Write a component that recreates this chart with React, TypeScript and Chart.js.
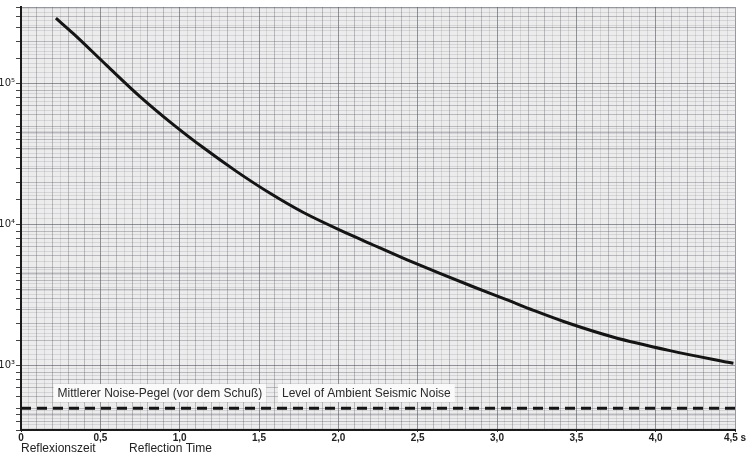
import { useEffect, useRef } from "react";
import { Chart, registerables } from "chart.js";
Chart.register(...registerables);

// Reflection time (s) and amplitude
const TIME_S = [0.22, 0.33, 0.54, 0.75, 0.96, 1.15, 1.36, 1.57, 1.78, 2.07, 2.22, 2.43, 2.64, 2.85, 3.06, 3.23, 3.42, 3.73, 4.09, 4.49];
const AMPLITUDE = [291700, 226500, 134900, 81100, 51300, 35100, 23800, 16700, 12200, 8530, 7180, 5660, 4510, 3630, 2940, 2470, 2060, 1600, 1280, 1040];

// Ambient noise level (dashed line)
const NOISE_TIME = [0, 4.5];
const NOISE_LEVEL = [500, 500];

// Axis ticks
const X_TICK_LABELS = ["0", "0,5", "1,0", "1,5", "2,0", "2,5", "3,0", "3,5", "4,0", "4,5 s"];
const Y_LABELED = [1000, 10000, 100000];
const Y_LABEL_TEXT = ["10³", "10⁴", "10⁵"];
const Y_MAIN_MANTISSA = [1, 1.5, 2, 2.5, 3, 3.5, 4, 4.5, 5, 6, 7, 8, 9];
const Y_FINE_MANTISSA = [1.1, 1.2, 1.3, 1.4, 1.6, 1.7, 1.8, 1.9, 2.2, 2.4, 2.6, 2.8, 3.2, 3.4, 3.6, 3.8, 4.2, 4.4, 4.6, 4.8, 5.5, 6.5, 7.5, 8.5, 9.5];
const Y_DECADES = [100, 1000, 10000, 100000];

// Annotation texts
const NOISE_TEXTS = ["Mittlerer Noise-Pegel (vor dem Schuß)", "Level of Ambient Seismic Noise"];
const NOISE_TEXT_TIME = [0.23, 1.645];
const NOISE_TEXT_VALUE = 640;

const X_MIN = 0, X_MAX = 4.5, Y_MIN = 350, Y_MAX = 350000;

const isMult = (v: number, s: number) => Math.abs(v / s - Math.round(v / s)) < 1e-6;
const isMainY = (v: number) => Y_DECADES.some((d) => Y_MAIN_MANTISSA.some((m) => Math.abs(m * d - v) < 1e-6 * v));

const paperPlugin = {
  id: "paper",
  beforeDraw(chart: any) {
    const { ctx, chartArea: a } = chart;
    ctx.save();
    ctx.fillStyle = "#ececed";
    ctx.fillRect(a.left, a.top, a.right - a.left, a.bottom - a.top);
    ctx.restore();
  },
};

const noiseTextPlugin = {
  id: "noiseText",
  afterDatasetsDraw(chart: any) {
    const { ctx, scales } = chart;
    ctx.save();
    ctx.font = "12px 'Liberation Sans', Arial, sans-serif";
    ctx.textBaseline = "middle";
    NOISE_TEXTS.forEach((txt, i) => {
      const x = scales.x.getPixelForValue(NOISE_TEXT_TIME[i]);
      const y = scales.y.getPixelForValue(NOISE_TEXT_VALUE);
      const w = ctx.measureText(txt).width;
      ctx.fillStyle = "#fafafa";
      ctx.fillRect(x - 4, y - 9, w + 8, 18);
      ctx.fillStyle = "#2a2a2a";
      ctx.fillText(txt, x, y + 1);
    });
    ctx.restore();
  },
};

export default function App() {
  const ref = useRef<HTMLCanvasElement>(null);
  useEffect(() => {
    document.body.style.margin = "0";
    const yGrid: number[] = [];
    Y_DECADES.forEach((d) => {
      [...Y_MAIN_MANTISSA, ...Y_FINE_MANTISSA].forEach((m) => {
        const v = m * d;
        if (v >= Y_MIN && v <= Y_MAX) yGrid.push(v);
      });
    });
    yGrid.push(Y_MAX);
    yGrid.sort((a, b) => a - b);

    const chart = new Chart(ref.current!, {
      type: "line",
      data: {
        datasets: [
          {
            data: TIME_S.map((t, i) => ({ x: t, y: AMPLITUDE[i] })),
            borderColor: "#141414",
            borderWidth: 3,
            pointRadius: 0,
            cubicInterpolationMode: "monotone",
            fill: false,
          },
          {
            data: NOISE_TIME.map((t, i) => ({ x: t, y: NOISE_LEVEL[i] })),
            borderColor: "#141414",
            borderWidth: 3,
            borderDash: [10, 6],
            pointRadius: 0,
            fill: false,
          },
        ],
      },
      options: {
        animation: false,
        responsive: true,
        maintainAspectRatio: false,
        layout: { padding: { top: 3, right: 14, left: 0, bottom: 0 } },
        plugins: { legend: { display: false }, tooltip: { enabled: false } },
        scales: {
          x: {
            type: "linear",
            min: X_MIN,
            max: X_MAX,
            ticks: {
              stepSize: 0.05,
              autoSkip: false,
              maxRotation: 0,
              padding: 0,
              color: "#222",
              font: { family: "'Liberation Sans', Arial, sans-serif", size: 10, weight: "bold" },
              callback: (v: any) => (isMult(Number(v), 0.5) ? X_TICK_LABELS[Math.round(Number(v) / 0.5)] : ""),
            },
            grid: {
              tickLength: 2,
              color: (c: any) => {
                const v = c.tick?.value ?? 0;
                if (isMult(v, 0.5)) return "rgba(70,70,80,0.55)";
                if (isMult(v, 0.1)) return "rgba(90,90,100,0.35)";
                return "rgba(110,110,120,0.18)";
              },
              tickColor: (c: any) => (isMult(c.tick?.value ?? 0, 0.5) ? "#333" : "rgba(0,0,0,0)"),
            },
            border: { color: "#1a1a1a", width: 2 },
            title: {
              display: true,
              align: "start",
              text: "Reflexionszeit          Reflection Time",
              color: "#222",
              padding: 0,
              font: { family: "'Liberation Sans', Arial, sans-serif", size: 12 },
            },
            afterFit: (s: any) => {
              s.height = 26;
            },
          },
          y: {
            type: "logarithmic",
            min: Y_MIN,
            max: Y_MAX,
            afterBuildTicks: (s: any) => {
              s.ticks = yGrid.map((v) => ({ value: v }));
            },
            ticks: {
              autoSkip: false,
              padding: 1,
              color: "#222",
              font: { family: "'DejaVu Sans', sans-serif", size: 10 },
              callback: (v: any) => {
                const i = Y_LABELED.findIndex((l) => Math.abs(l - Number(v)) < 1e-6);
                return i >= 0 ? Y_LABEL_TEXT[i] : "";
              },
            },
            grid: {
              tickLength: 5,
              color: (c: any) => {
                const v = c.tick?.value ?? 1;
                if (Y_LABELED.some((l) => Math.abs(l - v) < 1e-6)) return "rgba(70,70,80,0.55)";
                if (isMainY(v)) return "rgba(90,90,100,0.35)";
                return "rgba(110,110,120,0.18)";
              },
              tickColor: (c: any) => (isMainY(c.tick?.value ?? 1) ? "#444" : "rgba(0,0,0,0)"),
            },
            border: { color: "#1a1a1a", width: 2 },
            afterFit: (s: any) => {
              s.width = 21;
            },
          },
        },
      } as any,
      plugins: [paperPlugin, noiseTextPlugin],
    });
    return () => chart.destroy();
  }, []);
  return (
    <div style={{ width: 749, height: 456, position: "relative", background: "#fff" }}>
      <canvas ref={ref} />
    </div>
  );
}
